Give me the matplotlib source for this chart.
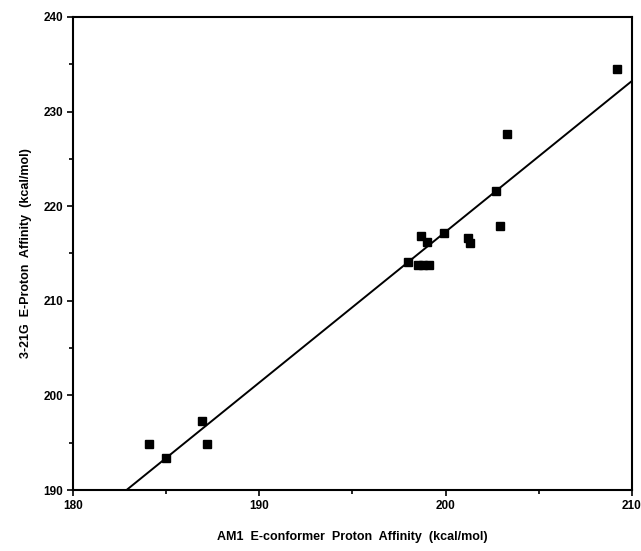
"""Correlation of 3-21G vs AM1 E-conformer proton affinities."""

import numpy
from matplotlib import pyplot
from matplotlib.ticker import MultipleLocator

# Data (kcal/mol).
am1_pa = [184.1, 185.0, 186.9, 187.2, 198.0, 198.5, 198.8, 199.1,
          198.7, 199.0, 199.9, 201.2, 201.3, 202.7, 202.9, 203.3, 209.2]
hf321_pa = [194.9, 193.4, 197.3, 194.9, 214.1, 213.8, 213.8, 213.8,
            216.8, 216.2, 217.2, 216.6, 216.1, 221.6, 217.9, 227.6, 234.5]

# Least-squares line as drawn.
fit_slope = 1.594
fit_intercept = -101.5

pyplot.rc('font', family='Liberation Sans', weight='bold', size=8.5)

fig = pyplot.figure(figsize=(6.41, 5.51), dpi=100)
ax = fig.add_axes([0.1139, 0.1107, 0.8720, 0.8585])

ax.plot(am1_pa, hf321_pa, linestyle='none', marker='s', markersize=6,
        color='black')

x0 = (190.0 - fit_intercept) / fit_slope
xfit = numpy.array([x0, 210.0])
ax.plot(xfit, fit_slope * xfit + fit_intercept, color='black', linewidth=1.4)

ax.set_xlim(180, 210)
ax.set_ylim(190, 240)
ax.xaxis.set_major_locator(MultipleLocator(10))
ax.xaxis.set_minor_locator(MultipleLocator(5))
ax.yaxis.set_major_locator(MultipleLocator(10))
ax.yaxis.set_minor_locator(MultipleLocator(5))
ax.tick_params(which='both', direction='out', width=1.2, top=False,
               right=False)
ax.tick_params(which='major', length=4, pad=3)
ax.tick_params(which='minor', length=3)
for spine in ax.spines.values():
    spine.set_linewidth(1.5)

ax.set_xlabel('AM1  E-conformer  Proton  Affinity  (kcal/mol)',
              fontsize=9, fontweight='bold', labelpad=14)
ax.set_ylabel('3-21G  E-Proton  Affinity  (kcal/mol)',
              fontsize=9, fontweight='bold', labelpad=8)

fig.savefig('out.png', dpi=100)
